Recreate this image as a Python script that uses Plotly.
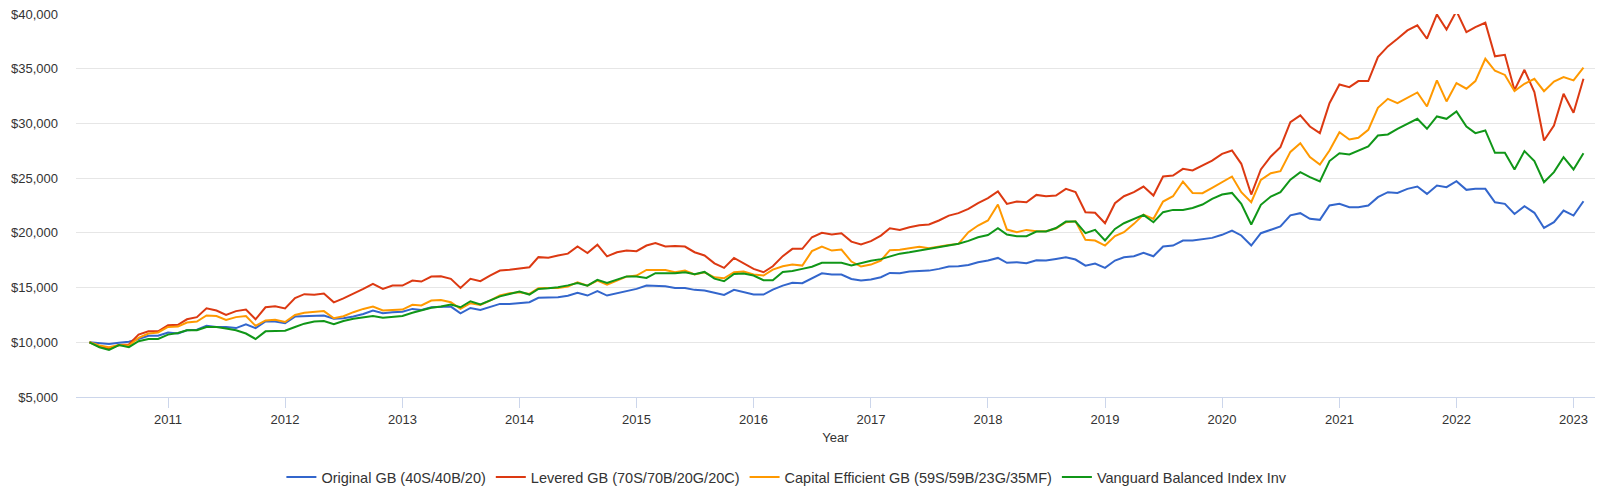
import pandas as pd
import plotly.graph_objects as go

# Month-end values (plotted at first day of following month), May 2010 .. Feb 2023
dates = pd.date_range("2010-05-01", periods=154, freq="MS")

original_gb = [
    10000, 9900, 9850, 9950, 10050, 10300, 10600, 10600, 10900, 10800,
    11100, 11150, 11500, 11400, 11400, 11300, 11650, 11300, 11900, 11900,
    11750, 12350, 12380, 12400, 12450, 12150, 12200, 12350, 12590, 12900,
    12650, 12740, 12800, 13050, 12960, 13200, 13260, 13260, 12650, 13140,
    12960, 13200, 13510, 13510, 13570, 13660, 14060, 14060, 14120, 14250,
    14520, 14270, 14670, 14270, 14480, 14670, 14880, 15180, 15120, 15120,
    14970, 14970, 14790, 14730, 14520, 14330, 14790, 14580, 14360, 14360,
    14820, 15180, 15430, 15400, 15850, 16310, 16190, 16190, 15790, 15640,
    15730, 15950, 16340, 16310, 16460, 16520, 16550, 16710, 16920, 16950,
    17070, 17320, 17470, 17710, 17260, 17320, 17220, 17500, 17470, 17620,
    17770, 17560, 17000, 17200, 16800, 17470, 17770, 17860, 18170, 17860,
    18750, 18840, 19300, 19300, 19450, 19540, 19820, 20210, 19760, 18840,
    19970, 20270, 20580, 21600, 21800, 21280, 21190, 22500, 22650, 22340,
    22340, 22500, 23260, 23720, 23650, 24020, 24230, 23560, 24330, 24170,
    24720, 23930, 24020, 24020, 22800, 22650, 21730, 22440, 21830, 20450,
    20970, 22040, 21580, 22890,
]

levered_gb = [
    10000, 9600, 9420, 9750, 9800, 10700, 11000, 11000, 11550, 11600,
    12100, 12300, 13100, 12900, 12500, 12850, 13000, 12100, 13200, 13300,
    13100, 14050, 14400, 14350, 14450, 13650, 14020, 14420, 14880, 15340,
    14880, 15180, 15180, 15640, 15550, 16010, 16040, 15800, 14970, 15800,
    15580, 16100, 16560, 16620, 16710, 16860, 17780, 17720, 17930, 18100,
    18750, 18150, 18920, 17850, 18230, 18380, 18320, 18840, 19060, 18750,
    18810, 18750, 18230, 17930, 17220, 16800, 17710, 17220, 16710, 16400,
    16950, 17870, 18540, 18540, 19600, 20000, 19850, 19970, 19200, 18930,
    19240, 19750, 20420, 20270, 20520, 20700, 20760, 21130, 21580, 21800,
    22190, 22710, 23170, 23780, 22650, 22860, 22800, 23470, 23340, 23410,
    24020, 23720, 21890, 21830, 20880, 22710, 23350, 23720, 24230, 23410,
    25150, 25240, 25850, 25700, 26150, 26610, 27220, 27530, 26310, 23500,
    25790, 26980, 27830, 30120, 30730, 29720, 29110, 31850, 33560, 33320,
    33870, 33870, 36060, 37040, 37740, 38500, 38960, 37740, 39960, 38590,
    40270, 38350, 38800, 39200, 36130, 36270, 33040, 34900, 32860, 28440,
    29810, 32710, 30970, 34080,
]

capital_efficient_gb = [
    10000, 9700, 9550, 9750, 9700, 10400, 10800, 10900, 11400, 11450,
    11800, 11900, 12450, 12400, 12050, 12300, 12400, 11500, 12000, 12050,
    11850, 12500, 12700, 12800, 12850, 12200, 12380, 12750, 13050, 13260,
    12900, 12960, 12990, 13420, 13360, 13810, 13870, 13660, 13050, 13570,
    13420, 13810, 14270, 14480, 14570, 14420, 14940, 14970, 14970, 15100,
    15490, 15180, 15640, 15270, 15640, 16000, 16100, 16610, 16610, 16610,
    16400, 16550, 16190, 16400, 15940, 15850, 16400, 16460, 16190, 16100,
    16640, 16950, 17100, 17010, 18330, 18750, 18380, 18470, 17380, 16920,
    17100, 17470, 18420, 18450, 18600, 18720, 18600, 18760, 18900, 18990,
    20060, 20670, 21130, 22590, 20300, 20060, 20270, 20150, 20150, 20400,
    20970, 21060, 19360, 19300, 18840, 19700, 20060, 20820, 21670, 21280,
    22860, 23350, 24690, 23650, 23620, 24110, 24630, 25150, 23720, 22800,
    24840, 25450, 25640, 27400, 28200, 26920, 26250, 27530, 29200, 28530,
    28690, 29420, 31430, 32250, 31860, 32340, 32830, 31550, 33930, 32010,
    33690, 33170, 33870, 35910, 34810, 34430, 32950, 33620, 34080, 32950,
    33820, 34230, 33930, 35090,
]

vanguard_balanced = [
    10000, 9550, 9300, 9750, 9550, 10100, 10300, 10300, 10700, 10850,
    11100, 11100, 11400, 11400, 11250, 11100, 10800, 10300, 11000, 11000,
    11050, 11400, 11700, 11900, 11950, 11650, 11950, 12150, 12250, 12400,
    12250, 12300, 12400, 12700, 12900, 13150, 13270, 13450, 13200, 13750,
    13450, 13810, 14200, 14420, 14630, 14360, 14880, 14940, 15030, 15200,
    15420, 15180, 15700, 15430, 15760, 16020, 16020, 15880, 16320, 16310,
    16310, 16400, 16220, 16430, 15820, 15580, 16250, 16280, 16100, 15670,
    15670, 16430, 16520, 16710, 16900, 17260, 17260, 17260, 17010, 17240,
    17450, 17600, 17850, 18100, 18230, 18380, 18520, 18730, 18880, 19000,
    19270, 19600, 19800, 20420, 19840, 19690, 19690, 20120, 20130, 20440,
    21030, 21030, 19970, 20270, 19300, 20360, 20880, 21280, 21640, 20970,
    21890, 22100, 22100, 22280, 22590, 23110, 23500, 23650, 22650, 20760,
    22560, 23320, 23720, 24860, 25550, 25090, 24700, 26560, 27280, 27160,
    27530, 27890, 28900, 28990, 29510, 29970, 30420, 29510, 30640, 30420,
    31090, 29720, 29110, 29360, 27310, 27310, 25790, 27470, 26560, 24630,
    25550, 26920, 25790, 27280,
]

series_names = [
    "Original GB (40S/40B/20)",
    "Levered GB (70S/70B/20G/20C)",
    "Capital Efficient GB (59S/59B/23G/35MF)",
    "Vanguard Balanced Index Inv",
]
series_values = [original_gb, levered_gb, capital_efficient_gb, vanguard_balanced]
series_colors = ["#3366cc", "#dc3912", "#ff9900", "#109618"]

FONT = "Liberation Sans, Arial, Helvetica, sans-serif"

fig = go.Figure()
for name, vals, col in zip(series_names, series_values, series_colors):
    fig.add_trace(go.Scatter(
        x=dates, y=vals, name=name, mode="lines",
        line=dict(color=col, width=2),
    ))

fig.update_layout(
    width=1600, height=491,
    margin=dict(l=76, r=5, t=14, b=94, autoexpand=False),
    paper_bgcolor="white", plot_bgcolor="white",
    font=dict(family=FONT, size=13, color="#333333"),
    showlegend=True,
    legend=dict(
        orientation="h", x=0.468, xanchor="center", y=-0.209, yanchor="middle",
        font=dict(family=FONT, size=14.5, color="#333333"),
        itemwidth=30, tracegroupgap=0,
    ),
)

fig.update_xaxes(
    type="date",
    range=["2010-03-20", "2023-03-09"],
    tick0="2011-01-01", dtick="M12", tickformat="%Y",
    showgrid=False, zeroline=False,
    showline=True, linecolor="#ccd6eb", linewidth=1,
    ticks="outside", ticklen=10, tickcolor="#ccd6eb", tickwidth=1,
    tickfont=dict(family=FONT, size=13, color="#333333"),
    title=dict(text="Year", font=dict(family=FONT, size=13, color="#333333"), standoff=7),
)

fig.update_yaxes(
    range=[5000, 40000], dtick=5000, tick0=0,
    tickprefix="$", tickformat=",",
    showgrid=True, gridcolor="#e6e6e6", gridwidth=1,
    zeroline=False, showline=False,
    ticklabelstandoff=17,
    tickfont=dict(family=FONT, size=13, color="#333333"),
)

fig.write_html(
    "out.html",
    config={"displayModeBar": False},
    post_script="document.body.style.margin='0';document.body.style.overflow='hidden';",
)
